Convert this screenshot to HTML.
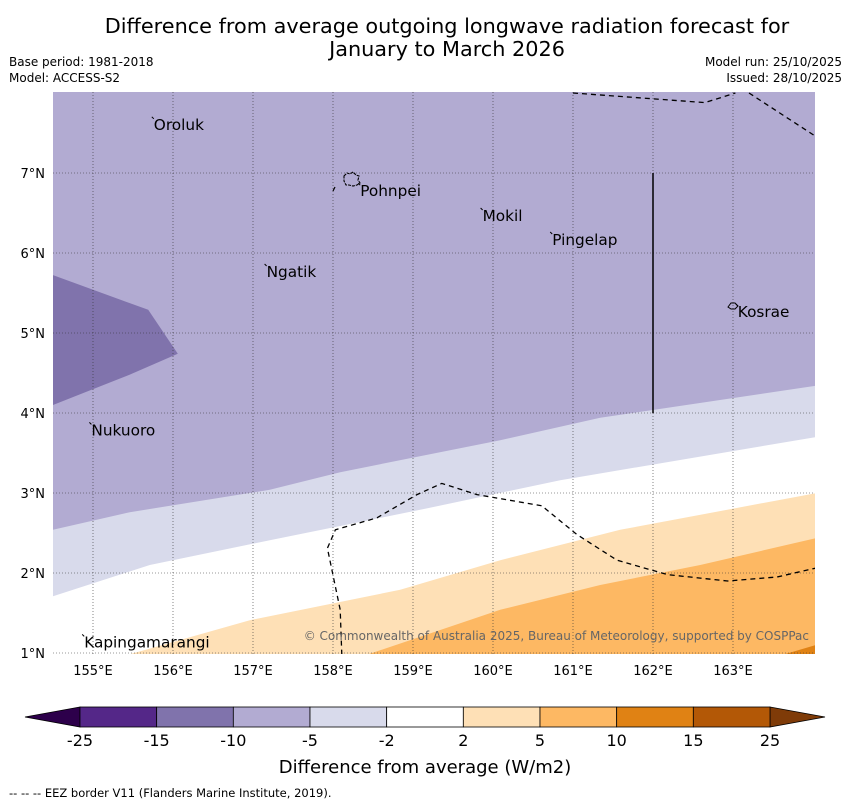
<!DOCTYPE html>
<html><head><meta charset="utf-8"><style>
body{margin:0;background:#fff;font-family:"Liberation Sans","DejaVu Sans",sans-serif}
svg text{font-family:"DejaVu Sans","Liberation Sans",sans-serif}
</style></head><body>
<svg id="c" width="850" height="804" xmlns="http://www.w3.org/2000/svg">
<text x="447" y="33" font-size="20.8" text-anchor="middle">Difference from average outgoing longwave radiation forecast for</text>
<text x="447" y="56" font-size="20.8" text-anchor="middle">January to March 2026</text>
<text x="9" y="66" font-size="12">Base period: 1981-2018</text>
<text x="9" y="82" font-size="12">Model: ACCESS-S2</text>
<text x="842" y="66" font-size="12" text-anchor="end">Model run: 25/10/2025</text>
<text x="842" y="82" font-size="12" text-anchor="end">Issued: 28/10/2025</text>
<defs><clipPath id="mc"><rect x="53" y="92" width="762" height="562"/></clipPath></defs>
<g id="map" clip-path="url(#mc)"></g>
<g id="over"></g>
<g id="cb"></g>
<text x="425" y="773" font-size="18" text-anchor="middle">Difference from average (W/m2)</text>
<text x="9" y="797" font-size="11.5">--  --  -- EEZ border V11 (Flanders Marine Institute, 2019).</text>
</svg>
<script>
const lonTicks=[155,156,157,158,159,160,161,162,163];
const latTicks=[1,2,3,4,5,6,7];
const purpleMidLine=[[154.5,2.54],[155.46,2.76],[157.21,3.04],[158.09,3.26],[160.09,3.66],[161.34,3.94],[164.1,4.35]];
const paleLine=[[154.5,1.71],[155.71,2.1],[157.21,2.41],[159.09,2.79],[160.84,3.16],[164.1,3.71]];
const lightOrangeLine=[[155.34,0.95],[156.96,1.41],[158.84,1.79],[160.09,2.16],[161.59,2.54],[164.1,3.01]];
const orangeLine=[[158.34,0.95],[160.09,1.54],[161.34,1.85],[162.59,2.1],[164.1,2.45]];
const darkOrangeLine=[[163.53,0.95],[164.1,1.12]];
const darkPurple=[[154.4,5.76],[155.69,5.29],[156.06,4.74],[155.46,4.48],[154.4,4.06]];
const eezTop1=[[161.0,8.0],[162.65,7.88],[163.03,8.0]];
const eezTop2=[[163.2,8.0],[164.03,7.46]];
const eezLow=[[158.11,0.98],[158.09,1.54],[157.93,2.31],[158.03,2.54],[158.55,2.69],[159.05,2.98],[159.36,3.12],[159.8,2.98],[160.61,2.84],[161.05,2.48],[161.55,2.16],[162.18,1.98],[162.93,1.9],[163.55,1.95],[164.03,2.06]];
const islands=[["Oroluk",155.76,7.54],["Pohnpei",158.34,6.71],["Mokil",159.87,6.4],["Pingelap",160.74,6.1],["Ngatik",157.17,5.7],["Kosrae",163.06,5.2],["Nukuoro",154.98,3.72],["Kapingamarangi",154.89,1.07]];
const cbBounds=["-25","-15","-10","-5","-2","2","5","10","15","25"];
const cbColors=["#542788","#8073ac","#b2abd2","#d8daeb","#ffffff","#fee0b6","#fdb863","#e08214","#b35806"];
const X=lon=>53+(lon-154.5)*80, Y=lat=>653-(lat-1)*80;
const NS="http://www.w3.org/2000/svg";
function mk(t,a,p){const e=document.createElementNS(NS,t);for(const k in a)e.setAttribute(k,a[k]);p.appendChild(e);return e;}
const pts=a=>a.map(p=>X(p[0]).toFixed(1)+","+Y(p[1]).toFixed(1)).join(" ");
const map=document.getElementById("map");
let r=mk("rect",{x:53,y:92,width:762,height:562,fill:"#b2abd2"},map);


function band(line,col,name){const p=mk("polygon",{points:pts(line)+" 820,660 40,660",fill:col},map);

}
band(purpleMidLine,"#d8daeb","band-minus5");
band(paleLine,"#ffffff","band-minus2");
band(lightOrangeLine,"#fee0b6","band-plus2");
band(orangeLine,"#fdb863","band-plus5");
band(darkOrangeLine,"#e08214","band-plus10");
let dp=mk("polygon",{points:pts(darkPurple),fill:"#8073ac"},map);


lonTicks.forEach(l=>{let g=mk("line",{x1:X(l),x2:X(l),y1:92,y2:654,stroke:"#333","stroke-width":0.6,"stroke-dasharray":"1,2"},map);

});
latTicks.forEach(l=>{let g=mk("line",{x1:53,x2:815,y1:Y(l),y2:Y(l),stroke:"#333","stroke-width":0.6,"stroke-dasharray":"1,2"},map);

});
[eezTop1,eezTop2,eezLow].forEach(a=>{let e=mk("polyline",{points:pts(a),fill:"none",stroke:"#000","stroke-width":1.3,"stroke-dasharray":"5,4"},map);

});
let vl=mk("line",{x1:X(162),x2:X(162),y1:Y(7),y2:Y(4),stroke:"#000","stroke-width":1.5},map);


let ph=mk("path",{d:"M344,176 l3,-3 l3,1 l3,-2 l3,3 l3,1 l-1,4 l2,3 l-3,2 l-4,1 l-4,-1 l-3,0 l-2,-4 z",fill:"none",stroke:"#000","stroke-width":1.1,"stroke-dasharray":"3,1"},map);


let pd=mk("line",{x1:333,y1:191,x2:335,y2:187,stroke:"#000","stroke-width":1.2},map);


let ko=mk("path",{d:"M728,307 l3,-4 l4,0 l3,3 l-3,3 l-4,0 z",fill:"none",stroke:"#000","stroke-width":1},map);


islands.forEach(s=>{let m=mk("line",{x1:X(s[1])-2,y1:Y(s[2])-13,x2:X(s[1]),y2:Y(s[2])-11,stroke:"#000","stroke-width":1},map);


let t=mk("text",{x:X(s[1]),y:Y(s[2]),"font-size":15.3,fill:"#000"},map);t.textContent=s[0];

});
let cp=mk("text",{x:809,y:640,"font-size":12,fill:"#666","text-anchor":"end"},map);cp.textContent="© Commonwealth of Australia 2025, Bureau of Meteorology, supported by COSPPac";


const ov=document.getElementById("over");
lonTicks.forEach(l=>{let t=mk("text",{x:X(l),y:675,"font-size":13,"text-anchor":"middle"},ov);t.textContent=l+"°E";

});
latTicks.forEach(l=>{let t=mk("text",{x:45,y:Y(l)+5,"font-size":13,"text-anchor":"end"},ov);t.textContent=l+"°N";

});
const cb=document.getElementById("cb");
const x0=80,x1=770,w=(x1-x0)/cbColors.length;
let lt=mk("polygon",{points:`${x0},707 25,717 ${x0},727`,fill:"#2d004b",stroke:"#000","stroke-width":0.8},cb);


let rt=mk("polygon",{points:`${x1},707 825,717 ${x1},727`,fill:"#7f3b08",stroke:"#000","stroke-width":0.8},cb);


cbColors.forEach((c,i)=>{let b=mk("rect",{x:x0+i*w,y:707,width:w,height:20,fill:c,stroke:"#000","stroke-width":0.8},cb);

});
cbBounds.forEach((v,i)=>{let t=mk("text",{x:x0+i*w,y:746,"font-size":16,"text-anchor":"middle"},cb);t.textContent=v;

});
</script>
</body></html>
